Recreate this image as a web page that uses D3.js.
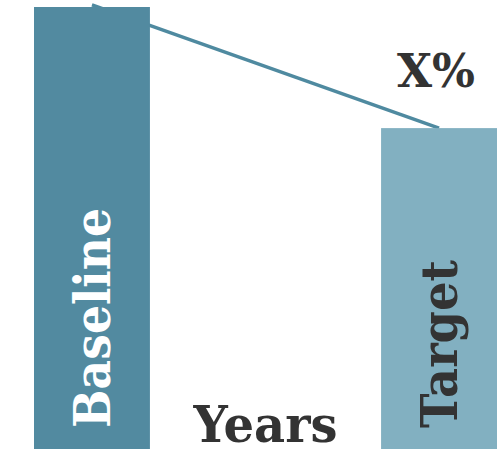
<!DOCTYPE html>
<html>
<head>
<meta charset="utf-8">
<script src="https://cdn.jsdelivr.net/npm/d3@7/dist/d3.min.js"></script>
<style>
  html, body { margin: 0; padding: 0; background: #fff; }
  svg { display: block; }
  text { font-family: "DejaVu Serif", "Liberation Serif", serif; font-weight: bold; }
</style>
</head>
<body>
<script>
// Bar categories and their values (baseline = 100)
const categories = ["Baseline", "Target"];
const values = [100, 72.6];
// Trend line drawn behind the bars, from baseline top to target top
const trendValues = [100.5, 72.6];
const barColors = ["#528aa0", "#82b0c1"];
const labelColors = ["#ffffff", "#333333"];
const axisTitle = "Years";
const changeLabel = "X%";

const width = 501, height = 456;
const svg = d3.select("body").append("svg")
  .attr("width", width).attr("height", height);

const x = d3.scaleBand()
  .domain(categories)
  .range([34, 497])
  .paddingInner(0.666)
  .paddingOuter(0);

const y = d3.scaleLinear()
  .domain([0, 100])
  .range([449, 7]);

// Trend line (under the bars)
const line = d3.line()
  .x((d, i) => x(categories[i]) + x.bandwidth() / 2)
  .y(d => y(d));

svg.append("path")
  .datum(trendValues)
  .attr("d", line)
  .attr("fill", "none")
  .attr("stroke", "#4f8aa0")
  .attr("stroke-width", 3.5);

// Bars
svg.selectAll("rect.bar")
  .data(categories)
  .join("rect")
  .attr("class", "bar")
  .attr("x", d => x(d))
  .attr("width", x.bandwidth())
  .attr("y", (d, i) => y(values[i]))
  .attr("height", (d, i) => y(0) - y(values[i]))
  .attr("fill", (d, i) => barColors[i]);

// Rotated category labels inside the bars
const labelLengths = [220, 168];
svg.selectAll("text.cat")
  .data(categories)
  .join("text")
  .attr("class", "cat")
  .attr("transform", d => `translate(${x(d) + x.bandwidth() / 2 + 18},${y(0) - 21}) rotate(-90)`)
  .attr("font-size", 50)
  .attr("fill", (d, i) => labelColors[i])
  .attr("textLength", (d, i) => labelLengths[i])
  .attr("lengthAdjust", "spacingAndGlyphs")
  .text(d => d);

// Axis title between the bars
svg.append("text")
  .attr("x", (x.range()[0] + x.range()[1]) / 2)
  .attr("y", 442)
  .attr("text-anchor", "middle")
  .attr("font-size", 50)
  .attr("fill", "#333333")
  .attr("textLength", 144)
  .attr("lengthAdjust", "spacingAndGlyphs")
  .text(axisTitle);

// Change label above the target bar
svg.append("text")
  .attr("x", 436)
  .attr("y", 87)
  .attr("text-anchor", "middle")
  .attr("font-size", 46)
  .attr("fill", "#333333")
  .attr("textLength", 78)
  .attr("lengthAdjust", "spacingAndGlyphs")
  .text(changeLabel);
</script>
</body>
</html>
